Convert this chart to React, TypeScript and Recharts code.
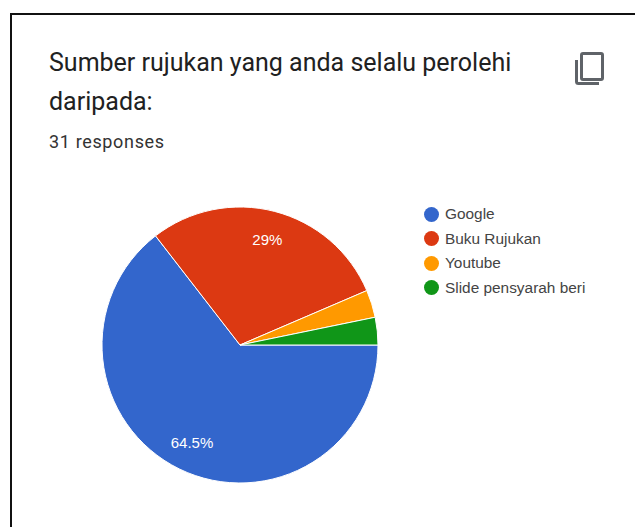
import { PieChart, Pie, Cell, Legend } from 'recharts';

const names = ['Google', 'Buku Rujukan', 'Youtube', 'Slide pensyarah beri'];
const counts = [20, 9, 1, 1];
const colors = ['#3366cc', '#dc3912', '#ff9900', '#109618'];

const data = names.map((name, i) => ({ name, value: counts[i] }));

const RAD = Math.PI / 180;

const renderLabel = ({ cx, cy, midAngle, outerRadius, percent }: any) => {
  // small slices have no label in the original
  if (percent < 0.1) return null;
  const r = outerRadius * 0.79;
  const x = cx + r * Math.cos(-midAngle * RAD);
  const y = cy + r * Math.sin(-midAngle * RAD);
  const text = `${Math.round(percent * 1000) / 10}%`;
  return (
    <text x={x} y={y} fill="#ffffff" fontSize={15} fontFamily="Liberation Sans" textAnchor="middle" dominantBaseline="central">
      {text}
    </text>
  );
};

const renderLegend = ({ payload }: any) => (
  <div>
    {payload.map((p: any) => (
      <div key={p.value} style={{ display: 'flex', alignItems: 'center', height: 24.5 }}>
        <span style={{ width: 15, height: 15, borderRadius: '50%', background: p.color, marginRight: 6, flex: 'none' }} />
        <span style={{ fontFamily: 'Liberation Sans', fontSize: 15.4, color: '#444', whiteSpace: 'nowrap' }}>{p.value}</span>
      </div>
    ))}
  </div>
);

export default function App() {
  return (
    <div style={{ position: 'absolute', left: 0, top: 0, width: 635, height: 527, background: '#fff', overflow: 'hidden' }}>
      <div style={{ position: 'absolute', left: 10, top: 13, width: 640, height: 540, borderLeft: '2.5px solid #111', borderTop: '2.5px solid #111' }} />
      <div style={{ position: 'absolute', left: 49, top: 44, width: 500, fontFamily: 'Roboto', fontSize: 25, lineHeight: '38.5px', color: '#212121' }}>
        Sumber rujukan yang anda selalu perolehi daripada:
      </div>
      <div style={{ position: 'absolute', left: 49, top: 131, fontFamily: 'Roboto', fontSize: 18, letterSpacing: 0.65, lineHeight: '22px', color: '#333' }}>
        31 responses
      </div>
      <svg style={{ position: 'absolute', left: 572, top: 50 }} width={34} height={38} viewBox="0 0 34 38" fill="none" stroke="#5f6368" strokeWidth={3}>
        <rect x={9.5} y={3.5} width={21} height={26} rx={1.5} />
        <path d="M4.5 10 V31.5 a2 2 0 0 0 2 2 H27" />
      </svg>
      <PieChart width={635} height={527} margin={{ top: 0, right: 0, bottom: 0, left: 0 }} style={{ position: 'absolute', left: 0, top: 0 }}>
        <Pie
          data={data}
          dataKey="value"
          nameKey="name"
          cx={240}
          cy={345}
          outerRadius={138}
          startAngle={0}
          endAngle={-360}
          stroke="#ffffff"
          strokeWidth={1}
          label={renderLabel}
          labelLine={false}
          isAnimationActive={false}
        >
          {data.map((d, i) => (
            <Cell key={d.name} fill={colors[i]} />
          ))}
        </Pie>
        <Legend content={renderLegend} itemSorter={null} layout="vertical" wrapperStyle={{ left: 424, top: 202, width: 200, bottom: 'auto' }} />
      </PieChart>
    </div>
  );
}
